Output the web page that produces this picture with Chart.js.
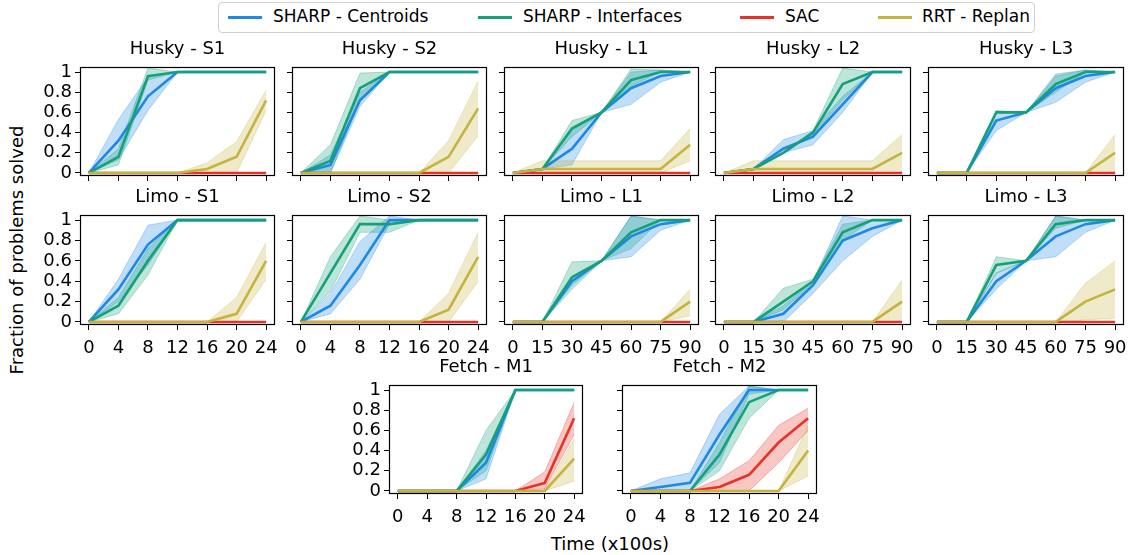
<!DOCTYPE html>
<html>
<head>
<meta charset="utf-8">
<script src="https://cdn.jsdelivr.net/npm/chart.js@4"></script>
<style>
  body { margin: 0; background: #fff; width: 1129px; height: 555px; position: relative; overflow: hidden; font-family: "DejaVu Sans", sans-serif; }
  canvas { position: absolute; }
  .leg { position: absolute; left: 218px; top: 2px; width: 815px; height: 29px; border: 1px solid #d0d0d0; border-radius: 4px; }
  .sw { position: absolute; top: 16px; width: 34px; height: 3px; }
  .lt { position: absolute; top: 6px; font-size: 17px; line-height: 21px; color: #000; white-space: nowrap; }
  .ylab { position: absolute; left: 16px; top: 250px; transform: translate(-50%, -50%) rotate(-90deg); font-size: 18px; white-space: nowrap; }
  .xlab { position: absolute; left: 610px; top: 543px; transform: translate(-50%, -50%); font-size: 18px; white-space: nowrap; }
</style>
</head>
<body>
<div class="leg"></div>
<div class="sw" style="left:228px;background:#1e88e5"></div><div class="lt" style="left:273px">SHARP - Centroids</div>
<div class="sw" style="left:478px;background:#14a078"></div><div class="lt" style="left:523px">SHARP - Interfaces</div>
<div class="sw" style="left:740px;background:#e53329"></div><div class="lt" style="left:785px">SAC</div>
<div class="sw" style="left:878px;background:#c4b33f"></div><div class="lt" style="left:922px">RRT - Replan</div>
<div class="ylab">Fraction of problems solved</div>
<div class="xlab">Time (x100s)</div>
<script>
// x values / ticks
const timeShort = [0, 4, 8, 12, 16, 20, 24];
const timeLong = [0, 15, 30, 45, 60, 75, 90];
const yTicks = [0, 0.2, 0.4, 0.6, 0.8, 1];
const zeros = [0, 0, 0, 0, 0, 0, 0];

// Husky - S1
const hS1Cen = [0, 0.32, 0.76, 1, 1, 1, 1], hS1CenLo = [0, 0.13, 0.62, 1, 1, 1, 1], hS1CenHi = [0, 0.53, 0.95, 1, 1, 1, 1];
const hS1Int = [0, 0.16, 0.96, 1, 1, 1, 1], hS1IntLo = [0, 0.08, 0.92, 1, 1, 1, 1], hS1IntHi = [0, 0.24, 1.04, 1, 1, 1, 1];
const hS1Rrt = [0, 0, 0, 0, 0.04, 0.16, 0.72], hS1RrtLo = [0, 0, 0, 0, 0, 0, 0.62], hS1RrtHi = [0, 0, 0, 0, 0.1, 0.31, 0.82];
// Husky - S2
const hS2Cen = [0, 0.08, 0.72, 1, 1, 1, 1], hS2CenLo = [0, 0, 0.66, 1, 1, 1, 1], hS2CenHi = [0, 0.18, 0.8, 1, 1, 1, 1];
const hS2Int = [0, 0.12, 0.84, 1, 1, 1, 1], hS2IntLo = [0, 0, 0.72, 1, 1, 1, 1], hS2IntHi = [0, 0.28, 0.99, 1, 1, 1, 1];
const hS2Rrt = [0, 0, 0, 0, 0, 0.16, 0.64], hS2RrtLo = [0, 0, 0, 0, 0, 0, 0.37], hS2RrtHi = [0, 0, 0, 0, 0, 0.32, 0.91];
// Husky - L1
const hL1Cen = [0, 0.04, 0.24, 0.6, 0.84, 0.96, 1], hL1CenLo = [0, 0.04, 0.08, 0.6, 0.68, 0.9, 1], hL1CenHi = [0, 0.04, 0.44, 0.6, 1.0, 1.02, 1];
const hL1Int = [0, 0.04, 0.44, 0.6, 0.92, 1, 1], hL1IntLo = [0, 0.04, 0.36, 0.6, 0.86, 1, 1], hL1IntHi = [0, 0.04, 0.52, 0.6, 1.03, 1.02, 1];
const hL1Rrt = [0, 0.04, 0.04, 0.04, 0.04, 0.04, 0.28], hL1RrtLo = [0, 0, 0, 0, 0, 0, 0.12], hL1RrtHi = [0, 0.12, 0.12, 0.12, 0.12, 0.12, 0.44];
// Husky - L2
const hL2Cen = [0, 0.04, 0.24, 0.36, 0.68, 1, 1], hL2CenLo = [0, 0.04, 0.2, 0.28, 0.6, 1, 1], hL2CenHi = [0, 0.04, 0.33, 0.42, 0.76, 1, 1];
const hL2Int = [0, 0.04, 0.2, 0.4, 0.88, 1, 1], hL2IntLo = [0, 0.04, 0.2, 0.38, 0.72, 1, 1], hL2IntHi = [0, 0.04, 0.2, 0.42, 1.04, 1, 1];
const hL2Rrt = [0, 0.04, 0.04, 0.04, 0.04, 0.04, 0.2], hL2RrtLo = [0, 0, 0, 0, 0, 0, 0], hL2RrtHi = [0, 0.12, 0.12, 0.12, 0.12, 0.12, 0.38];
// Husky - L3
const hL3Cen = [0, 0, 0.52, 0.6, 0.84, 0.96, 1], hL3CenLo = [0, 0, 0.42, 0.6, 0.7, 0.9, 1], hL3CenHi = [0, 0, 0.6, 0.6, 0.96, 1.02, 1];
const hL3Int = [0, 0, 0.6, 0.6, 0.88, 1, 1], hL3IntLo = [0, 0, 0.6, 0.6, 0.8, 1, 1], hL3IntHi = [0, 0, 0.62, 0.6, 0.98, 1.02, 1];
const hL3Rrt = [0, 0, 0, 0, 0, 0, 0.2], hL3RrtLo = [0, 0, 0, 0, 0, 0, 0], hL3RrtHi = [0, 0, 0, 0, 0, 0, 0.38];
// Limo - S1
const lS1Cen = [0, 0.32, 0.76, 1, 1, 1, 1], lS1CenLo = [0, 0.2, 0.56, 1, 1, 1, 1], lS1CenHi = [0, 0.42, 0.95, 1, 1, 1, 1];
const lS1Int = [0, 0.16, 0.6, 1, 1, 1, 1], lS1IntLo = [0, 0.08, 0.46, 1, 1, 1, 1], lS1IntHi = [0, 0.24, 0.72, 1, 1, 1, 1];
const lS1Rrt = [0, 0, 0, 0, 0, 0.08, 0.6], lS1RrtLo = [0, 0, 0, 0, 0, 0, 0.42], lS1RrtHi = [0, 0, 0, 0, 0, 0.24, 0.78];
// Limo - S2
const lS2Cen = [0, 0.16, 0.56, 1, 1, 1, 1], lS2CenLo = [0, 0.08, 0.42, 0.96, 1, 1, 1], lS2CenHi = [0, 0.28, 0.79, 1.04, 1, 1, 1];
const lS2Int = [0, 0.48, 0.96, 0.96, 1, 1, 1], lS2IntLo = [0, 0.3, 0.88, 0.88, 1, 1, 1], lS2IntHi = [0, 0.64, 1.04, 1.0, 1, 1, 1];
const lS2Rrt = [0, 0, 0, 0, 0, 0.12, 0.64], lS2RrtLo = [0, 0, 0, 0, 0, 0, 0.4], lS2RrtHi = [0, 0, 0, 0, 0, 0.28, 0.88];
// Limo - L1
const lL1Cen = [0, 0, 0.4, 0.6, 0.84, 0.96, 1], lL1CenLo = [0, 0, 0.36, 0.6, 0.64, 0.9, 1], lL1CenHi = [0, 0, 0.44, 0.6, 1.04, 1.0, 1];
const lL1Int = [0, 0, 0.44, 0.6, 0.88, 1, 1], lL1IntLo = [0, 0, 0.32, 0.6, 0.72, 1, 1], lL1IntHi = [0, 0, 0.59, 0.6, 1.04, 1, 1];
const lL1Rrt = [0, 0, 0, 0, 0, 0, 0.2], lL1RrtLo = [0, 0, 0, 0, 0, 0, 0.06], lL1RrtHi = [0, 0, 0, 0, 0, 0, 0.32];
// Limo - L2
const lL2Cen = [0, 0, 0.08, 0.36, 0.8, 0.92, 1], lL2CenLo = [0, 0, 0, 0.28, 0.6, 0.84, 1], lL2CenHi = [0, 0, 0.16, 0.4, 1.04, 1, 1];
const lL2Int = [0, 0, 0.2, 0.4, 0.88, 1, 1], lL2IntLo = [0, 0, 0.12, 0.38, 0.8, 1, 1], lL2IntHi = [0, 0, 0.33, 0.42, 0.96, 1, 1];
const lL2Rrt = [0, 0, 0, 0, 0, 0, 0.2], lL2RrtLo = [0, 0, 0, 0, 0, 0, 0], lL2RrtHi = [0, 0, 0, 0, 0, 0, 0.41];
// Limo - L3
const lL3Cen = [0, 0, 0.4, 0.6, 0.84, 0.96, 1], lL3CenLo = [0, 0, 0.32, 0.6, 0.64, 0.88, 1], lL3CenHi = [0, 0, 0.48, 0.6, 1.04, 1, 1];
const lL3Int = [0, 0, 0.56, 0.6, 0.96, 1, 1], lL3IntLo = [0, 0, 0.48, 0.6, 0.92, 1, 1], lL3IntHi = [0, 0, 0.64, 0.6, 1.04, 1, 1];
const lL3Rrt = [0, 0, 0, 0, 0, 0.2, 0.32], lL3RrtLo = [0, 0, 0, 0, 0, 0.02, 0.04], lL3RrtHi = [0, 0, 0, 0, 0, 0.38, 0.6];
// Fetch - M1
const fM1Cen = [0, 0, 0, 0.28, 1, 1, 1], fM1CenLo = [0, 0, 0, 0.12, 1, 1, 1], fM1CenHi = [0, 0, 0, 0.4, 1, 1, 1];
const fM1Int = [0, 0, 0, 0.36, 1, 1, 1], fM1IntLo = [0, 0, 0, 0.2, 1, 1, 1], fM1IntHi = [0, 0, 0, 0.6, 1, 1, 1];
const fM1Sac = [0, 0, 0, 0, 0, 0.08, 0.72], fM1SacLo = [0, 0, 0, 0, 0, 0.02, 0.56], fM1SacHi = [0, 0, 0, 0, 0, 0.19, 0.88];
const fM1Rrt = [0, 0, 0, 0, 0, 0, 0.32], fM1RrtLo = [0, 0, 0, 0, 0, 0, 0.1], fM1RrtHi = [0, 0, 0, 0, 0, 0, 0.52];
// Fetch - M2
const fM2Cen = [0, 0.04, 0.08, 0.56, 1, 1, 1], fM2CenLo = [0, 0, 0, 0.28, 0.96, 1, 1], fM2CenHi = [0, 0.12, 0.18, 0.76, 1.04, 1, 1];
const fM2Int = [0, 0, 0, 0.36, 0.88, 1, 1], fM2IntLo = [0, 0, 0, 0.2, 0.72, 1, 1], fM2IntHi = [0, 0, 0, 0.48, 1.04, 1, 1];
const fM2Sac = [0, 0, 0, 0.04, 0.16, 0.48, 0.72], fM2SacLo = [0, 0, 0, 0, 0, 0.28, 0.6], fM2SacHi = [0, 0, 0, 0.12, 0.3, 0.65, 0.82];
const fM2Rrt = [0, 0, 0, 0, 0, 0, 0.4], fM2RrtLo = [0, 0, 0, 0, 0, 0, 0.15], fM2RrtHi = [0, 0, 0, 0, 0, 0, 0.65];

const FONT = '"DejaVu Sans", sans-serif';
const colors = ['30,136,229', '20,160,120', '229,51,41', '196,179,63'];
const Y_W = 50, TOP = 30, X_H = 40, PAD_R = 14;

// layout of each panel's plot box
const panels = [
  { title: 'Husky - S1', left: 80,  top: 67,  w: 195, h: 109, x: timeShort, showY: true,  showX: false, s: [[hS1Cen, hS1CenLo, hS1CenHi], [hS1Int, hS1IntLo, hS1IntHi], [zeros, zeros, zeros], [hS1Rrt, hS1RrtLo, hS1RrtHi]] },
  { title: 'Husky - S2', left: 292, top: 67,  w: 195, h: 109, x: timeShort, showY: false, showX: false, s: [[hS2Cen, hS2CenLo, hS2CenHi], [hS2Int, hS2IntLo, hS2IntHi], [zeros, zeros, zeros], [hS2Rrt, hS2RrtLo, hS2RrtHi]] },
  { title: 'Husky - L1', left: 504, top: 67,  w: 195, h: 109, x: timeLong,  showY: false, showX: false, s: [[hL1Cen, hL1CenLo, hL1CenHi], [hL1Int, hL1IntLo, hL1IntHi], [zeros, zeros, zeros], [hL1Rrt, hL1RrtLo, hL1RrtHi]] },
  { title: 'Husky - L2', left: 715, top: 67,  w: 196, h: 109, x: timeLong,  showY: false, showX: false, s: [[hL2Cen, hL2CenLo, hL2CenHi], [hL2Int, hL2IntLo, hL2IntHi], [zeros, zeros, zeros], [hL2Rrt, hL2RrtLo, hL2RrtHi]] },
  { title: 'Husky - L3', left: 928, top: 67,  w: 196, h: 109, x: timeLong,  showY: false, showX: false, s: [[hL3Cen, hL3CenLo, hL3CenHi], [hL3Int, hL3IntLo, hL3IntHi], [zeros, zeros, zeros], [hL3Rrt, hL3RrtLo, hL3RrtHi]] },
  { title: 'Limo - S1',  left: 80,  top: 215, w: 195, h: 110, x: timeShort, showY: true,  showX: true,  s: [[lS1Cen, lS1CenLo, lS1CenHi], [lS1Int, lS1IntLo, lS1IntHi], [zeros, zeros, zeros], [lS1Rrt, lS1RrtLo, lS1RrtHi]] },
  { title: 'Limo - S2',  left: 292, top: 215, w: 195, h: 110, x: timeShort, showY: false, showX: true,  s: [[lS2Cen, lS2CenLo, lS2CenHi], [lS2Int, lS2IntLo, lS2IntHi], [zeros, zeros, zeros], [lS2Rrt, lS2RrtLo, lS2RrtHi]] },
  { title: 'Limo - L1',  left: 504, top: 215, w: 195, h: 110, x: timeLong,  showY: false, showX: true,  s: [[lL1Cen, lL1CenLo, lL1CenHi], [lL1Int, lL1IntLo, lL1IntHi], [zeros, zeros, zeros], [lL1Rrt, lL1RrtLo, lL1RrtHi]] },
  { title: 'Limo - L2',  left: 715, top: 215, w: 196, h: 110, x: timeLong,  showY: false, showX: true,  s: [[lL2Cen, lL2CenLo, lL2CenHi], [lL2Int, lL2IntLo, lL2IntHi], [zeros, zeros, zeros], [lL2Rrt, lL2RrtLo, lL2RrtHi]] },
  { title: 'Limo - L3',  left: 928, top: 215, w: 196, h: 110, x: timeLong,  showY: false, showX: true,  s: [[lL3Cen, lL3CenLo, lL3CenHi], [lL3Int, lL3IntLo, lL3IntHi], [zeros, zeros, zeros], [lL3Rrt, lL3RrtLo, lL3RrtHi]] },
  { title: 'Fetch - M1', left: 389, top: 385, w: 194, h: 109, x: timeShort, showY: true,  showX: true,  s: [[fM1Cen, fM1CenLo, fM1CenHi], [fM1Int, fM1IntLo, fM1IntHi], [fM1Sac, fM1SacLo, fM1SacHi], [fM1Rrt, fM1RrtLo, fM1RrtHi]] },
  { title: 'Fetch - M2', left: 622, top: 385, w: 195, h: 109, x: timeShort, showY: false, showX: true,  s: [[fM2Cen, fM2CenLo, fM2CenHi], [fM2Int, fM2IntLo, fM2IntHi], [fM2Sac, fM2SacLo, fM2SacHi], [fM2Rrt, fM2RrtLo, fM2RrtHi]] }
];

// axes frame and a title centred over the plot box
const frame = {
  id: 'frame',
  afterDraw(chart, args, opts) {
    const a = chart.chartArea, c = chart.ctx;
    c.save();
    c.strokeStyle = '#000';
    c.lineWidth = 1.2;
    c.strokeRect(Math.round(a.left) + 0.5, Math.round(a.top) + 0.5, Math.round(a.right - a.left) - 1, Math.round(a.bottom - a.top) - 1);
    c.fillStyle = '#000';
    c.font = '18px ' + FONT;
    c.textAlign = 'center';
    c.textBaseline = 'middle';
    c.fillText(opts.text, (a.left + a.right) / 2, a.top - 18);
    c.restore();
  }
};

function pts(xs, ys) { return xs.map((x, i) => ({ x: x, y: ys[i] })); }

panels.forEach(p => {
  const cv = document.createElement('canvas');
  cv.width = Y_W + p.w + PAD_R;
  cv.height = TOP + p.h + X_H;
  cv.style.left = (p.left - Y_W) + 'px';
  cv.style.top = (p.top - TOP) + 'px';
  document.body.appendChild(cv);

  const span = p.x[p.x.length - 1];
  const datasets = [];
  p.s.forEach((ser, i) => {
    const c = colors[i];
    datasets.push({ data: pts(p.x, ser[2]), fill: '+1', backgroundColor: 'rgba(' + c + ',0.28)', borderColor: 'rgba(' + c + ',0.3)', borderWidth: 1, pointRadius: 0, order: 20 - i });
    datasets.push({ data: pts(p.x, ser[1]), fill: false, borderColor: 'rgba(' + c + ',0.3)', borderWidth: 1, pointRadius: 0, order: 20 - i });
  });
  p.s.forEach((ser, i) => {
    datasets.push({ data: pts(p.x, ser[0]), fill: false, borderColor: 'rgb(' + colors[i] + ')', borderWidth: 2.6, pointRadius: 0, order: 4 - i });
  });

  new Chart(cv, {
    type: 'line',
    data: { datasets: datasets },
    options: {
      responsive: false,
      animation: false,
      layout: { padding: { left: 0, right: PAD_R, top: TOP, bottom: 0 } },
      elements: { line: { tension: 0 } },
      plugins: {
        legend: { display: false },
        tooltip: { enabled: false },
        title: { display: false },
        frame: { text: p.title }
      },
      scales: {
        x: {
          type: 'linear', min: -span * 0.05, max: span * 1.05,
          afterBuildTicks: a => { a.ticks = p.x.map(v => ({ value: v })); },
          afterFit: a => { a.height = X_H; },
          grid: { display: true, drawOnChartArea: false, drawTicks: true, tickLength: 5, color: '#000', lineWidth: 1 },
          border: { display: false },
          ticks: { color: p.showX ? '#000' : 'rgba(0,0,0,0)', font: { family: FONT, size: 18 }, padding: 8, maxRotation: 0, autoSkip: false, callback: v => String(v) }
        },
        y: {
          min: -0.03, max: 1.05,
          afterBuildTicks: a => { a.ticks = yTicks.map(v => ({ value: v })); },
          afterFit: a => { a.width = Y_W; },
          grid: { display: true, drawOnChartArea: false, drawTicks: true, tickLength: 5, color: '#000', lineWidth: 1 },
          border: { display: false },
          ticks: { color: p.showY ? '#000' : 'rgba(0,0,0,0)', font: { family: FONT, size: 18 }, padding: 3, autoSkip: false, callback: v => String(v) }
        }
      }
    },
    plugins: [frame]
  });
});
</script>
</body>
</html>
